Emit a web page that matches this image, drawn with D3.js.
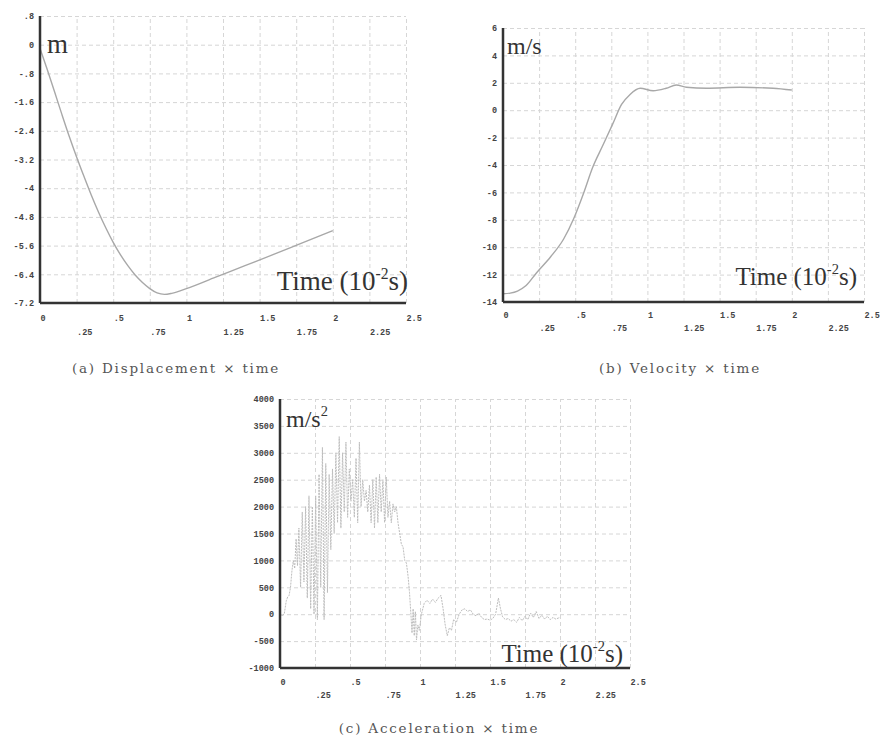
<!DOCTYPE html>
<html>
<head>
<meta charset="utf-8">
<script src="https://cdn.jsdelivr.net/npm/d3@7"></script>
<style>
body { margin: 0; background: #fff; }
</style>
</head>
<body>
<svg id="chart" width="880" height="738"></svg>
<script>
// Time axis, shared by the three panels (units of 10^-2 s)
const timeTicks = [0, .25, .5, .75, 1, 1.25, 1.5, 1.75, 2, 2.25, 2.5];
const timeTickLabels = ['0', '.25', '.5', '.75', '1', '1.25', '1.5', '1.75', '2', '2.25', '2.5'];

// (a) displacement
const dispTicks = [.8, 0, -.8, -1.6, -2.4, -3.2, -4, -4.8, -5.6, -6.4, -7.2];
const dispTickLabels = ['.8', '0', '-.8', '-1.6', '-2.4', '-3.2', '-4', '-4.8', '-5.6', '-6.4', '-7.2'];
const dispTime  = [0, .05, .1, .15, .2, .25, .3, .35, .4, .45, .5, .55, .6, .65, .7, .75, .8, .85, .9, 1, 1.2, 1.4, 1.6, 1.8, 2];
const dispValue = [-.1, -.7, -1.32, -1.95, -2.56, -3.13, -3.67, -4.19, -4.67, -5.11, -5.51, -5.86, -6.16, -6.42, -6.63, -6.8, -6.92, -6.96, -6.93, -6.8, -6.48, -6.16, -5.84, -5.51, -5.18];

// (b) velocity
const velTicks = [6, 4, 2, 0, -2, -4, -6, -8, -10, -12, -14];
const velTime  = [0, .05, .1, .16, .23, .33, .42, .49, .56, .62, .69, .76, .82, .88, .95, 1.04, 1.13, 1.2, 1.27, 1.41, 1.64, 1.87, 2];
const velValue = [-13.4, -13.35, -13.2, -12.8, -11.9, -10.7, -9.4, -7.9, -6.0, -4.2, -2.6, -1.0, .4, 1.15, 1.6, 1.42, 1.6, 1.84, 1.67, 1.6, 1.67, 1.6, 1.47];

// (c) acceleration
const accTicks = [4000, 3500, 3000, 2500, 2000, 1500, 1000, 500, 0, -500, -1000];
const accTime = [0, .015, .03, .045, .055, .065, .075, .085, .095, .105, .115, .125, .135, .147, .159, .171, .183, .195,
  .207, .219, .231, .243, .255, .267, .279, .291, .303, .315, .327, .339, .351, .363, .375, .387, .399, .411, .423, .435,
  .447, .459, .471, .483, .495, .507, .519, .531, .543, .555, .567, .579, .591, .603, .615, .627, .639, .651, .663, .675,
  .687, .699, .711, .723, .735, .747, .759, .771, .783, .795, .807, .819, .831, .843, .855, .867, .879, .891, .903, .915,
  .925, .935, .943, .951, .959, .967, .975, .985, .995, 1.01, 1.03, 1.05, 1.07, 1.09, 1.11, 1.13, 1.15, 1.165, 1.18,
  1.195, 1.21, 1.225, 1.24, 1.26, 1.28, 1.3, 1.32, 1.34, 1.36, 1.38, 1.4, 1.42, 1.44, 1.46, 1.48, 1.5, 1.52, 1.54, 1.56,
  1.575, 1.59, 1.61, 1.63, 1.65, 1.67, 1.69, 1.71, 1.73, 1.75, 1.77, 1.79, 1.81, 1.83, 1.85, 1.87, 1.89, 1.91, 1.93,
  1.95, 1.97, 2];
const accValue = [0, -30, 0, 250, 320, 350, 500, 800, 1000, 850, 1400, 900, 1600, 500, 1900, 600, 2000, 300,
  2200, 100, 2000, 0, 2200, -100, 2600, 500, 3100, -100, 2800, 400, 2600, 1200, 2700, 1500, 3000, 1700, 3300, 1600,
  3000, 1900, 3200, 1800, 2700, 2100, 2500, 1800, 2900, 1700, 3200, 2000, 2500, 2100, 2300, 1900, 2400, 1700, 2500, 1600,
  2550, 1700, 2600, 1900, 2500, 1700, 2550, 1800, 2100, 1700, 2050, 1900, 2000, 1700, 1500, 1300, 1250, 1000, 950, 700,
  400, 0, -350, 100, -400, 50, -480, -200, -300, 0, 200, 260, 200, 280, 220, 300, 350, 100, -200,
  -400, -250, -300, -100, -150, 0, 80, 100, 50, 80, 0, -30, 20, -60, -100, -90, -110, -80, 0, 300,
  100, -50, -100, -80, -130, -100, -150, -60, -120, -40, -100, 20, -60, 50, -80, -20, -90, -40, -100,
  -60, -90, -60];

const svg = d3.select('#chart');

const panels = [
  { time: dispTime, values: dispValue, ticks: dispTicks, tickLabels: dispTickLabels,
    xRange: [40, 406], yRange: [303, 16], curve: d3.curveMonotoneX, lineColor: '#a8a8a8',
    unit: 'm', unitSup: null, unitX: 47, unitY: 53, unitSize: 27,
    titleX: 408, titleY: 290, titleSize: 27, rows: [321, 335],
    caption: '(a) Displacement × time', captionX: 176, captionY: 373 },
  { time: velTime, values: velValue, ticks: velTicks, tickLabels: velTicks.map(String),
    xRange: [503, 864], yRange: [302, 28], curve: d3.curveMonotoneX, lineColor: '#a8a8a8',
    unit: 'm/s', unitSup: null, unitX: 507, unitY: 54, unitSize: 24,
    titleX: 857, titleY: 285, titleSize: 25, rows: [318, 331],
    caption: '(b) Velocity × time', captionX: 680, captionY: 373 },
  { time: accTime, values: accValue, ticks: accTicks, tickLabels: accTicks.map(String),
    xRange: [280, 630], yRange: [668, 399], curve: d3.curveLinear, lineColor: '#bdbdbd',
    unit: 'm/s', unitSup: '2', unitX: 286, unitY: 427, unitSize: 24,
    titleX: 623, titleY: 662, titleSize: 25, rows: [685, 698],
    caption: '(c) Acceleration × time', captionX: 439, captionY: 733 }
];

panels.forEach(p => {
  const x = d3.scaleLinear([0, 2.5], p.xRange);
  const y = d3.scaleLinear([d3.min(p.ticks), d3.max(p.ticks)], p.yRange);
  const g = svg.append('g');
  const left = p.xRange[0], bottom = p.yRange[0];

  // grid
  g.append('g')
    .attr('transform', `translate(0,${bottom})`)
    .call(d3.axisBottom(x).tickValues(timeTicks.slice(1)).tickSize(-(p.yRange[0] - p.yRange[1])).tickFormat(''))
    .call(a => a.select('.domain').remove())
    .selectAll('line').attr('stroke', '#d6d6d6').attr('stroke-dasharray', '4,3');
  g.append('g')
    .attr('transform', `translate(${left},0)`)
    .call(d3.axisLeft(y).tickValues(p.ticks.slice(0, -1)).tickSize(-(p.xRange[1] - p.xRange[0])).tickFormat(''))
    .call(a => a.select('.domain').remove())
    .selectAll('line').attr('stroke', '#d6d6d6').attr('stroke-dasharray', '4,3');

  // data line
  const line = d3.line().x((d, i) => x(p.time[i])).y(d => y(d)).curve(p.curve);
  g.append('path')
    .datum(p.values)
    .attr('d', line)
    .attr('fill', 'none')
    .attr('stroke', p.lineColor)
    .attr('stroke-width', p.curve === d3.curveLinear ? 1 : 1.4)
    .attr('stroke-dasharray', p.curve === d3.curveLinear ? '2,1' : null);

  // axis lines
  g.append('line').attr('x1', left).attr('x2', left).attr('y1', p.yRange[1]).attr('y2', bottom)
    .attr('stroke', '#333').attr('stroke-width', 2.5);
  g.append('line').attr('x1', left).attr('x2', p.xRange[1]).attr('y1', bottom).attr('y2', bottom)
    .attr('stroke', '#333').attr('stroke-width', 2.5);

  // y tick labels
  const yAxis = g.append('g')
    .attr('transform', `translate(${left},0)`)
    .call(d3.axisLeft(y).tickValues(p.ticks).tickSize(0).tickPadding(6)
      .tickFormat((d, i) => p.tickLabels[i]));
  yAxis.select('.domain').remove();
  yAxis.selectAll('text')
    .attr('font-family', 'Liberation Mono, monospace').attr('font-size', 8.5)
    .attr('font-weight', 'bold').attr('fill', '#444');

  // x tick labels in two staggered rows
  [0, 1].forEach(r => {
    const vals = timeTicks.filter((d, i) => i % 2 === r);
    const xa = g.append('g')
      .attr('transform', `translate(0,${p.rows[r]})`)
      .call(d3.axisBottom(x).tickValues(vals).tickSize(0).tickPadding(0)
        .tickFormat(d => timeTickLabels[timeTicks.indexOf(d)]));
    xa.select('.domain').remove();
    xa.selectAll('text')
      .attr('dy', 0).attr('text-anchor', 'start')
      .attr('font-family', 'Liberation Mono, monospace').attr('font-size', 8.5)
      .attr('font-weight', 'bold').attr('fill', '#444');
  });

  // unit label
  const u = g.append('text')
    .attr('x', p.unitX).attr('y', p.unitY)
    .attr('font-family', 'Liberation Serif, serif').attr('font-size', p.unitSize)
    .attr('fill', '#333').text(p.unit);
  if (p.unitSup) {
    u.append('tspan').attr('dy', -11).attr('font-size', p.unitSize * 0.6).text(p.unitSup);
  }

  // time label
  const t = g.append('text')
    .attr('x', p.titleX).attr('y', p.titleY)
    .attr('text-anchor', 'end')
    .attr('font-family', 'Liberation Serif, serif').attr('font-size', p.titleSize)
    .attr('fill', '#333');
  t.append('tspan').text('Time (10');
  t.append('tspan').attr('dy', -11).attr('font-size', p.titleSize * 0.58).text('-2');
  t.append('tspan').attr('dy', 11).text('s)');

  // caption
  svg.append('text')
    .attr('x', p.captionX).attr('y', p.captionY)
    .attr('text-anchor', 'middle')
    .attr('font-family', 'DejaVu Serif, serif').attr('font-size', 13.5)
    .attr('letter-spacing', 1.8)
    .attr('fill', '#555')
    .text(p.caption);
});
</script>
</body>
</html>
